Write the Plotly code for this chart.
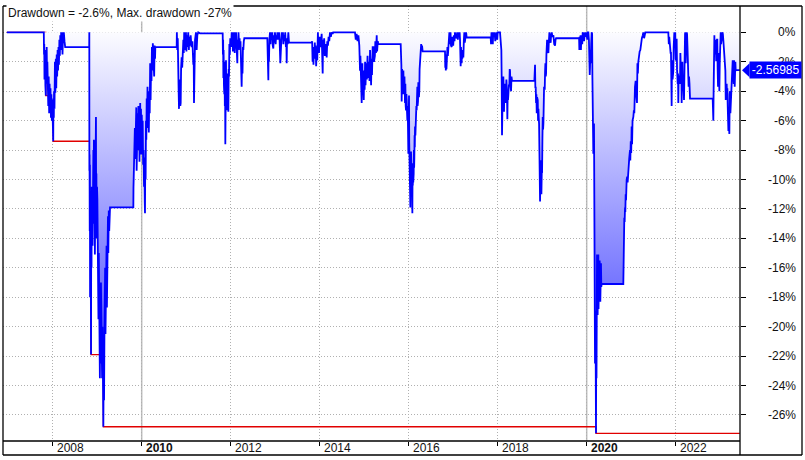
import plotly.graph_objects as go

# ---------------- data ----------------
title_text = "Drawdown = -2.6%, Max. drawdown -27%"
last_value = -2.56985
year_ticks = [2008, 2010, 2012, 2014, 2016, 2018, 2020, 2022]
bold_years = [2010, 2020]
pct_ticks = [0, -2, -4, -6, -8, -10, -12, -14, -16, -18, -20, -22, -24, -26]

# max drawdown (step line): year, percent
mdd_year = [2006.97, 2007.845, 2008.012, 2008.861, 2009.138, 2020.209, 2023.44]
mdd_pct = [0.0, -4.3, -7.4, -21.9, -26.8, -27.25, -27.25]

# drawdown series (year, percent), split by episode
ep_2007 = [
    (2006.97, 0.0), (2007.80, 0.0), (2007.805, -1.5), (2007.81, -0.8), (2007.815, -3.2), (2007.82, -1.6),
    (2007.825, -2.8), (2007.83, -1.2), (2007.835, -3.6), (2007.84, -2.0), (2007.845, -4.3), (2007.85, -1.3),
    (2007.86, -3.5), (2007.865, -1.0), (2007.87, -2.5), (2007.88, -2.0), (2007.885, -4.0), (2007.89, -2.2),
    (2007.90, -5.0), (2007.91, -3.0), (2007.92, -5.5), (2007.93, -3.5), (2007.94, -4.8), (2007.95, -3.8),
    (2007.96, -5.8), (2007.97, -4.2), (2007.98, -6.0), (2007.99, -4.6), (2008.00, -5.6), (2008.012, -7.4),
    (2008.016, -4.5), (2008.025, -5.8), (2008.03, -4.0), (2008.04, -5.2), (2008.05, -2.0), (2008.06, -4.1),
    (2008.07, -1.8), (2008.08, -3.8), (2008.09, -1.5), (2008.10, -3.0), (2008.11, -1.2), (2008.12, -2.6),
    (2008.13, -1.0), (2008.14, -2.2), (2008.15, -0.5), (2008.16, -1.6), (2008.17, -0.2), (2008.18, -1.2),
    (2008.19, 0.0), (2008.20, -0.8), (2008.21, 0.0), (2008.22, -1.5), (2008.23, -0.3), (2008.25, 0.0),
    (2008.265, -0.6), (2008.28, -1.0), (2008.82, -1.0),
]
ep_2008 = [
    (2008.8225, 0.0), (2008.824, -9.4), (2008.828, -8.3), (2008.832, -13.5), (2008.836, -9.0), (2008.840, -18.0),
    (2008.844, -12.0), (2008.848, -17.0), (2008.852, -11.0), (2008.856, -18.7), (2008.859, -14.0),
    (2008.861, -21.9), (2008.866, -12.0), (2008.872, -16.0), (2008.878, -10.5), (2008.884, -15.0),
    (2008.890, -11.0), (2008.896, -14.5), (2008.902, -9.0), (2008.908, -12.5), (2008.914, -8.0),
    (2008.920, -13.0), (2008.926, -7.3), (2008.932, -12.0), (2008.940, -9.0), (2008.948, -15.1),
    (2008.956, -10.0), (2008.962, -13.5), (2008.968, -8.0), (2008.972, -5.75), (2008.976, -12.0),
    (2008.982, -9.6), (2008.988, -14.0), (2008.996, -10.5), (2009.004, -11.4), (2009.012, -17.3),
    (2009.020, -14.0), (2009.028, -19.5), (2009.036, -15.0), (2009.044, -21.0), (2009.052, -16.0),
    (2009.060, -23.5), (2009.068, -18.0), (2009.076, -22.5), (2009.084, -17.0), (2009.092, -21.0),
    (2009.100, -19.0), (2009.110, -23.5), (2009.120, -20.0), (2009.130, -24.5), (2009.138, -26.8),
    (2009.146, -22.0), (2009.154, -25.0), (2009.162, -20.7), (2009.170, -19.0), (2009.178, -16.0),
    (2009.186, -20.5), (2009.194, -17.5), (2009.202, -19.0), (2009.210, -14.5), (2009.218, -18.7),
    (2009.226, -13.5), (2009.234, -16.5), (2009.242, -12.5), (2009.250, -15.0), (2009.260, -12.1),
    (2009.270, -13.5), (2009.288, -11.9), (2009.812, -11.9), (2009.815, -10.6), (2009.822, -9.4),
    (2009.83, -7.8), (2009.838, -9.0), (2009.846, -6.5), (2009.854, -8.6), (2009.862, -5.5), (2009.87, -7.5),
    (2009.878, -5.1), (2009.886, -9.4), (2009.894, -6.0), (2009.902, -8.0), (2009.91, -5.5), (2009.918, -7.0),
    (2009.926, -5.0), (2009.934, -8.0), (2009.942, -5.6), (2009.95, -8.8), (2009.958, -6.0), (2009.966, -4.8),
    (2009.975, -7.5), (2009.984, -5.2), (2009.993, -8.3), (2010.002, -5.6), (2010.012, -7.8), (2010.022, -6.0),
    (2010.032, -9.0), (2010.042, -8.0), (2010.052, -10.5), (2010.06, -9.0), (2010.068, -11.5), (2010.074, -12.3),
    (2010.08, -8.5), (2010.088, -10.0), (2010.096, -6.0), (2010.104, -7.3), (2010.112, -4.5), (2010.12, -6.5),
    (2010.13, -3.7), (2010.14, -5.8), (2010.15, -4.0), (2010.16, -6.8), (2010.17, -4.2), (2010.18, -5.5),
    (2010.19, -2.1), (2010.2, -4.6), (2010.21, -2.4), (2010.22, -3.3), (2010.23, -1.0), (2010.24, -2.6),
    (2010.25, -0.75), (2010.26, -2.2), (2010.27, -1.5), (2010.28, -3.0), (2010.29, -0.9), (2010.3, -1.8),
    (2010.306, -1.0),
]
ep_2011 = [
    (2010.786, -1.0), (2010.79, 0.0), (2010.80, -1.2), (2010.81, -0.4), (2010.815, -2.6), (2010.82, -1.8),
    (2010.83, -4.0), (2010.838, -5.2), (2010.845, -3.2), (2010.852, -4.6), (2010.861, -3.6), (2010.868, -5.0),
    (2010.876, -4.8), (2010.885, -2.5), (2010.898, -1.7), (2010.91, -2.4), (2010.92, -0.8), (2010.936, -0.5),
    (2010.945, -1.4), (2010.955, 0.0), (2010.965, -1.2), (2010.975, -0.1), (2010.985, -1.1), (2010.995, 0.0),
    (2011.005, -1.3), (2011.015, -0.2), (2011.03, -1.0), (2011.045, 0.0), (2011.06, -1.2), (2011.07, -0.3),
    (2011.085, -0.9), (2011.10, -0.2), (2011.12, -1.0), (2011.14, -0.6), (2011.16, -2.2), (2011.168, -1.4),
    (2011.175, -4.8), (2011.182, -1.0), (2011.198, -0.5), (2011.22, 0.0), (2011.235, -1.2), (2011.25, -0.2),
    (2011.27, 0.0), (2011.31, -0.07), (2011.82, -0.07),
]
ep_2012 = [
    (2011.825, -1.5), (2011.83, -0.5), (2011.835, -3.1), (2011.84, -1.2), (2011.848, -3.6), (2011.856, -4.2),
    (2011.862, -2.0), (2011.868, -5.0), (2011.874, -3.5), (2011.879, -7.6), (2011.884, -3.0), (2011.889, -5.6),
    (2011.894, -1.9), (2011.90, -4.5), (2011.909, -5.3), (2011.915, -2.8), (2011.92, -4.8), (2011.93, -2.8),
    (2011.94, -4.0), (2011.947, -5.4), (2011.955, -2.5), (2011.962, -3.0), (2011.97, -0.8), (2011.98, -1.5),
    (2011.99, -0.4), (2012.00, -0.5), (2012.01, -1.0), (2012.022, 0.0), (2012.03, -0.9), (2012.04, 0.0),
    (2012.05, -1.3), (2012.06, -0.2), (2012.07, -1.0), (2012.08, 0.0), (2012.09, -1.4), (2012.10, -0.3),
    (2012.11, -1.1), (2012.12, 0.0), (2012.13, -0.8), (2012.149, -2.1), (2012.155, -0.5), (2012.165, -1.2),
    (2012.175, 0.0), (2012.19, -1.0), (2012.20, -0.4), (2012.209, -1.2), (2012.22, -0.6), (2012.235, -2.4),
    (2012.246, -3.7), (2012.255, -1.8), (2012.265, -2.8), (2012.275, -1.0), (2012.284, -1.2), (2012.295, -0.6),
    (2012.306, -0.4), (2012.823, -0.4),
]
ep_2013 = [
    (2012.828, -1.5), (2012.835, -0.8), (2012.846, -3.25), (2012.852, -1.0), (2012.86, -2.0), (2012.87, -0.5),
    (2012.883, 0.0), (2012.895, -0.8), (2012.905, 0.0), (2012.92, -0.5), (2012.935, 0.0), (2012.945, -0.9),
    (2012.958, -1.1), (2012.97, -0.2), (2012.98, -0.7), (2012.995, 0.0), (2013.01, -0.8), (2013.02, -0.2),
    (2013.035, -0.5), (2013.05, 0.0), (2013.07, -0.5), (2013.085, 0.0), (2013.10, -0.6), (2013.115, -2.1),
    (2013.125, -0.5), (2013.135, -1.2), (2013.145, 0.0), (2013.16, -0.4), (2013.175, 0.0), (2013.183, -0.8),
    (2013.195, -0.2), (2013.21, -0.6), (2013.225, 0.0), (2013.24, -1.0), (2013.25, -0.5), (2013.258, -2.1),
    (2013.266, -0.4), (2013.28, -0.8), (2013.295, 0.0), (2013.31, -0.7), (2013.819, -0.7),
]
ep_2014 = [
    (2013.825, -1.8), (2013.83, -0.6), (2013.84, -2.0), (2013.85, -1.0), (2013.86, -2.2), (2013.87, -1.2),
    (2013.88, -1.8), (2013.89, -0.7), (2013.90, -1.6), (2013.91, -0.9), (2013.92, -2.3), (2013.93, -1.4),
    (2013.945, -1.9), (2013.96, 0.0), (2013.97, -1.0), (2013.985, -1.4), (2014.00, -0.3), (2014.02, -1.0),
    (2014.044, -0.1), (2014.055, -1.5), (2014.067, -2.8), (2014.075, -0.5), (2014.09, -1.2), (2014.10, -0.4),
    (2014.115, -1.6), (2014.13, -0.8), (2014.145, -1.3), (2014.157, -1.7), (2014.17, -0.6), (2014.185, -0.9),
    (2014.20, -0.3), (2014.215, -0.6), (2014.231, 0.0), (2014.25, -0.3), (2014.27, 0.0), (2014.29, -0.1),
    (2014.306, 0.0), (2014.793, 0.0),
]
ep_2015 = [
    (2014.81, -0.5), (2014.83, -0.1), (2014.85, -0.6), (2014.87, -0.2), (2014.89, -0.9), (2014.906, -2.6),
    (2014.915, -1.6), (2014.925, -3.8), (2014.935, -2.5), (2014.943, -4.8), (2014.95, -3.0), (2014.958, -2.1),
    (2014.965, -4.0), (2014.975, -3.2), (2014.99, -4.6), (2015.00, -2.6), (2015.01, -3.9), (2015.02, -2.0),
    (2015.03, -3.6), (2015.045, -2.1), (2015.06, -3.2), (2015.075, -1.6), (2015.09, -3.1), (2015.105, -2.0),
    (2015.12, -3.3), (2015.131, -1.2), (2015.14, -2.5), (2015.155, -3.6), (2015.165, -1.8), (2015.175, -2.9),
    (2015.19, -1.0), (2015.206, -1.0), (2015.22, -2.0), (2015.24, -1.6), (2015.25, -0.6), (2015.265, -1.4),
    (2015.281, -0.2), (2015.29, -1.3), (2015.305, -0.6), (2015.318, -0.8), (2015.82, -0.8),
]
ep_2016 = [
    (2015.835, -2.2), (2015.842, -4.7), (2015.85, -2.5), (2015.858, -3.9), (2015.865, -3.0), (2015.872, -4.2),
    (2015.88, -2.6), (2015.888, -3.6), (2015.895, -3.7), (2015.905, -3.0), (2015.917, -4.8), (2015.925, -3.5),
    (2015.932, -5.0), (2015.94, -5.3), (2015.948, -4.2), (2015.955, -4.6), (2015.962, -5.4), (2015.97, -6.0),
    (2015.978, -5.0), (2015.985, -7.2), (2015.992, -8.25), (2016.0, -6.0), (2016.007, -4.3), (2016.012, -7.5),
    (2016.017, -9.0), (2016.022, -10.75), (2016.027, -9.5), (2016.032, -11.2), (2016.037, -11.9),
    (2016.042, -9.8), (2016.047, -10.5), (2016.052, -8.1), (2016.057, -10.0), (2016.062, -8.8),
    (2016.067, -9.6), (2016.072, -11.0), (2016.077, -10.2), (2016.082, -12.3), (2016.087, -9.2),
    (2016.092, -10.4), (2016.097, -8.9), (2016.102, -10.2), (2016.107, -9.0), (2016.112, -9.6),
    (2016.117, -8.0), (2016.122, -9.2), (2016.127, -8.5), (2016.132, -7.0), (2016.137, -7.8), (2016.142, -6.4),
    (2016.15, -7.0), (2016.157, -5.5), (2016.165, -6.2), (2016.172, -5.0), (2016.179, -5.3), (2016.186, -4.2),
    (2016.194, -3.7), (2016.2, -5.0), (2016.209, -4.7), (2016.216, -3.4), (2016.224, -3.5), (2016.23, -4.4),
    (2016.239, -3.9), (2016.245, -2.5), (2016.254, -2.1), (2016.262, -1.2), (2016.269, -1.4), (2016.28, -0.8),
    (2016.292, -1.1), (2016.30, -0.9), (2016.314, -1.3), (2016.816, -1.3),
]
ep_2017 = [
    (2016.822, -2.4), (2016.828, -1.5), (2016.834, -2.6), (2016.84, -1.6), (2016.848, -2.5), (2016.855, -1.3),
    (2016.862, -2.2), (2016.87, -1.0), (2016.88, -1.6), (2016.891, -1.0), (2016.90, -0.3), (2016.914, 0.0),
    (2016.925, -0.8), (2016.94, 0.0), (2016.95, -0.9), (2016.966, -1.0), (2016.975, -0.3), (2016.985, -0.8),
    (2017.0, -0.9), (2017.015, -0.2), (2017.03, -0.6), (2017.04, 0.0), (2017.06, -0.4), (2017.078, -0.3),
    (2017.09, 0.0), (2017.105, -0.5), (2017.116, 0.0), (2017.13, -0.3), (2017.145, 0.0), (2017.153, -0.5),
    (2017.16, -1.2), (2017.168, -2.3), (2017.175, -1.0), (2017.183, -1.5), (2017.19, -2.1), (2017.198, -1.2),
    (2017.205, -1.8), (2017.213, -1.2), (2017.22, -1.6), (2017.228, -1.7), (2017.24, -0.5), (2017.25, 0.0),
    (2017.26, -0.7), (2017.27, -0.2), (2017.28, -0.5), (2017.29, 0.0), (2017.303, -0.35), (2017.842, -0.35),
]
ep_2018 = [
    (2017.85, -0.8), (2017.86, 0.0), (2017.87, -0.7), (2017.88, -0.2), (2017.89, -0.8), (2017.90, 0.0),
    (2017.915, -0.3), (2017.93, 0.0), (2017.945, -0.6), (2017.96, -0.1), (2017.977, 0.0), (2017.99, -0.5),
    (2018.0, 0.0), (2018.052, 0.0), (2018.065, -0.8), (2018.075, -1.2), (2018.082, -1.2), (2018.09, -3.5),
    (2018.097, -7.0), (2018.102, -4.0), (2018.107, -5.0), (2018.112, -3.7), (2018.118, -4.6), (2018.127, -3.0),
    (2018.133, -4.2), (2018.142, -5.4), (2018.148, -3.8), (2018.155, -4.4), (2018.165, -3.5), (2018.172, -4.8),
    (2018.18, -3.9), (2018.187, -4.4), (2018.195, -3.2), (2018.202, -3.7), (2018.21, -4.5), (2018.217, -5.9),
    (2018.225, -4.0), (2018.232, -4.6), (2018.24, -4.2), (2018.25, -3.6), (2018.262, -3.6), (2018.27, -2.5),
    (2018.277, -2.6), (2018.285, -3.5), (2018.292, -4.0), (2018.30, -4.0), (2018.31, -3.0), (2018.322, -3.3),
    (2018.824, -3.3),
]
ep_2019 = [
    (2018.832, -2.8), (2018.839, -2.2), (2018.846, -3.8), (2018.854, -3.7), (2018.862, -4.8), (2018.87, -4.2),
    (2018.877, -5.5), (2018.885, -4.4), (2018.892, -5.0), (2018.9, -4.6), (2018.907, -6.0), (2018.915, -5.2),
    (2018.922, -5.8), (2018.93, -6.2), (2018.937, -7.3), (2018.945, -9.0), (2018.952, -11.5), (2018.96, -9.8),
    (2018.967, -8.7), (2018.975, -10.4), (2018.982, -11.0), (2018.99, -9.5), (2018.997, -9.5), (2019.005, -7.2),
    (2019.012, -5.75), (2019.02, -6.6), (2019.027, -6.2), (2019.035, -4.8), (2019.042, -3.7), (2019.05, -4.5),
    (2019.057, -3.9), (2019.065, -2.6), (2019.072, -2.1), (2019.08, -3.0), (2019.087, -2.8), (2019.095, -1.5),
    (2019.102, -1.0), (2019.11, -0.5), (2019.125, -1.2), (2019.139, -1.4), (2019.15, -0.6), (2019.162, 0.0),
    (2019.175, -0.6), (2019.19, -0.7), (2019.2, -0.2), (2019.214, 0.0), (2019.23, -0.3), (2019.252, -0.2),
    (2019.27, -0.8), (2019.289, -0.9), (2019.30, -0.5), (2019.312, -0.4), (2019.829, -0.4),
]
ep_2020 = [
    (2019.835, -1.2), (2019.84, -0.3), (2019.849, -0.5), (2019.855, -1.2), (2019.862, -0.2), (2019.87, -1.2),
    (2019.878, -0.5), (2019.887, -0.2), (2019.9, -0.8), (2019.91, 0.0), (2019.924, -0.1), (2019.94, -0.6),
    (2019.95, 0.0), (2019.962, 0.0), (2019.975, -0.3), (2019.99, 0.0), (2020.0, -0.2), (2020.015, -0.5),
    (2020.025, 0.0), (2020.037, 0.0), (2020.05, -0.5), (2020.06, -1.2), (2020.068, -2.9), (2020.074, -2.4),
    (2020.082, -1.2), (2020.09, -2.1), (2020.1, -0.8), (2020.111, 0.0), (2020.122, -0.1), (2020.128, -3.0),
    (2020.134, -4.6), (2020.142, -6.0), (2020.149, -8.25), (2020.156, -7.0), (2020.164, -6.2), (2020.168, -12.0),
    (2020.172, -16.0), (2020.176, -14.0), (2020.179, -21.0), (2020.183, -16.7), (2020.187, -22.5),
    (2020.19, -19.0), (2020.194, -26.7), (2020.198, -18.9), (2020.202, -24.0), (2020.205, -20.0),
    (2020.209, -27.25), (2020.213, -22.8), (2020.217, -20.5), (2020.22, -23.5), (2020.224, -18.7),
    (2020.228, -21.0), (2020.232, -15.1), (2020.236, -19.0), (2020.24, -16.0), (2020.246, -19.2),
    (2020.25, -15.5), (2020.255, -18.5), (2020.261, -15.1), (2020.266, -18.8), (2020.27, -16.0),
    (2020.276, -18.5), (2020.281, -15.5), (2020.286, -17.8), (2020.291, -15.5), (2020.296, -17.5),
    (2020.301, -16.5), (2020.306, -18.3), (2020.311, -15.8), (2020.316, -17.0), (2020.321, -15.7),
    (2020.328, -17.3), (2020.336, -17.1), (2020.823, -17.1),
    (2020.826, -16.4), (2020.83, -14.5), (2020.838, -13.5), (2020.845, -12.6), (2020.853, -12.9),
    (2020.861, -11.9), (2020.868, -12.2), (2020.876, -11.0), (2020.884, -11.4), (2020.898, -10.0),
    (2020.91, -9.8), (2020.92, -10.2), (2020.936, -9.2), (2020.945, -9.6), (2020.955, -8.6), (2020.973, -8.0),
    (2020.98, -8.7), (2020.99, -7.4), (2021.0, -8.2), (2021.01, -6.4), (2021.02, -7.6), (2021.03, -6.0),
    (2021.048, -5.75), (2021.06, -5.3), (2021.07, -5.5), (2021.085, -3.7), (2021.1, -3.3), (2021.11, -4.0),
    (2021.123, -4.4), (2021.13, -4.8), (2021.14, -2.1), (2021.15, -2.8), (2021.16, -2.0), (2021.175, -1.5),
    (2021.19, -1.3), (2021.205, -1.2), (2021.22, -0.6), (2021.24, -0.4), (2021.26, -0.2), (2021.273, 0.0),
    (2021.29, -0.4), (2021.318, 0.0), (2021.834, 0.0),
]
ep_2022 = [
    (2021.845, -0.8), (2021.855, -0.3), (2021.865, -1.0), (2021.872, -1.0), (2021.885, -1.4), (2021.894, -1.4),
    (2021.902, -3.0), (2021.909, -5.0), (2021.915, -2.5), (2021.922, -1.9), (2021.93, -3.2), (2021.94, -2.6),
    (2021.947, -2.6), (2021.955, -1.0), (2021.962, -0.1), (2021.969, 0.0), (2021.98, -0.5), (2021.99, 0.0),
    (2022.0, -1.8), (2022.007, -1.9), (2022.015, -0.5), (2022.022, -0.5), (2022.03, -2.5), (2022.037, -3.0),
    (2022.045, -3.5), (2022.052, -2.8), (2022.059, -4.8), (2022.067, -3.0), (2022.075, -3.0), (2022.082, -3.5),
    (2022.09, -3.2), (2022.097, -3.5), (2022.105, -1.4), (2022.112, -2.0), (2022.12, -3.0), (2022.127, -2.5),
    (2022.134, -4.8), (2022.14, -2.2), (2022.15, -2.0), (2022.158, -3.5), (2022.165, -3.0), (2022.172, -3.8),
    (2022.18, -4.0), (2022.187, -4.6), (2022.195, -1.7), (2022.203, -1.0), (2022.21, -0.1), (2022.217, 0.0),
    (2022.225, -2.1), (2022.232, -1.2), (2022.24, -0.2), (2022.247, 0.0), (2022.255, -0.1), (2022.265, -1.0),
    (2022.275, -2.1), (2022.284, -2.1), (2022.29, -3.7), (2022.3, -3.0), (2022.31, -3.5), (2022.322, -4.5),
    (2022.831, -4.5),
]
ep_2023 = [
    (2022.838, -5.5), (2022.846, -6.0), (2022.852, -4.0), (2022.858, -2.0), (2022.865, -3.0), (2022.869, -0.2),
    (2022.876, -1.5), (2022.884, -1.2), (2022.892, -0.8), (2022.9, -0.5), (2022.91, -1.9), (2022.921, -1.9),
    (2022.928, -0.5), (2022.935, -0.5), (2022.943, -2.5), (2022.951, -3.7), (2022.958, -2.0), (2022.966, -1.4),
    (2022.974, -2.5), (2022.981, -4.0), (2022.99, -2.1), (2022.998, -1.0), (2023.005, -0.5), (2023.011, 0.0),
    (2023.02, -0.8), (2023.03, -0.5), (2023.04, -0.4), (2023.049, 0.0), (2023.06, -0.1), (2023.07, -0.5),
    (2023.078, -0.8), (2023.086, -1.2), (2023.094, -2.0), (2023.101, -2.1), (2023.109, -2.5), (2023.116, -2.6),
    (2023.124, -4.6), (2023.131, -3.5), (2023.139, -3.7), (2023.146, -3.5), (2023.154, -4.4), (2023.161, -3.8),
    (2023.169, -5.0), (2023.176, -5.5), (2023.184, -6.7), (2023.19, -5.8), (2023.198, -6.5), (2023.206, -6.9),
    (2023.213, -4.2), (2023.221, -4.0), (2023.229, -5.5), (2023.236, -5.0), (2023.244, -3.8), (2023.252, -3.5),
    (2023.259, -3.3), (2023.266, -2.4), (2023.274, -2.0), (2023.281, -1.9), (2023.289, -3.0), (2023.296, -3.0),
    (2023.304, -3.5), (2023.311, -1.9), (2023.318, -2.5), (2023.326, -3.7), (2023.334, -2.8), (2023.341, -2.0),
    (2023.348, -2.6), (2023.356, -2.57), (2023.44, -2.57),
]

episodes = [ep_2007, ep_2008, ep_2011, ep_2012, ep_2013, ep_2014, ep_2015,
            ep_2016, ep_2017, ep_2018, ep_2019, ep_2020, ep_2022, ep_2023]
dd_year = [p[0] for ep in episodes for p in ep]
dd_pct = [p[1] for ep in episodes for p in ep]

# ---------------- figure ----------------
FONT = "Liberation Sans, Arial, sans-serif"
W, H = 805, 460
L, R, T, B = 3, 65, 6, 19
pw, ph = W - L - R, H - T - B
Y_RANGE = [-27.77, 1.79]


def px2paper_x(px):
    return (px - L) / pw


def py2paper_y(py):
    return (H - B - py) / ph


fig = go.Figure()

fig.add_trace(go.Scatter(
    x=mdd_year, y=mdd_pct, mode="lines", line=dict(color="rgb(225,0,0)", width=1.3, shape="hv"),
    hoverinfo="skip", showlegend=False,
))
fig.add_trace(go.Scatter(
    x=dd_year, y=dd_pct, mode="lines", line=dict(color="rgb(0,0,255)", width=1.8),
    fill="tozeroy",
    fillgradient=dict(type="vertical", start=0, stop=-27,
                      colorscale=[[0, "rgb(252,252,255)"], [1, "rgb(40,40,255)"]]),
    hoverinfo="skip", showlegend=False,
))

shapes = []
# solid decade gridlines
for yr in bold_years:
    shapes.append(dict(type="line", xref="x", yref="paper", x0=yr, x1=yr, y0=0, y1=1,
                       line=dict(color="#bdbdbd", width=1.5), layer="below"))
# frame
frame_x1 = px2paper_x(802)
frame_y0 = py2paper_y(455)
blk = dict(color="black", width=1.3)
shapes += [
    dict(type="line", xref="paper", yref="paper", x0=0, x1=frame_x1, y0=1, y1=1, line=blk),
    dict(type="line", xref="paper", yref="paper", x0=0, x1=frame_x1, y0=frame_y0, y1=frame_y0, line=blk),
    dict(type="line", xref="paper", yref="paper", x0=0, x1=0, y0=frame_y0, y1=1, line=blk),
    dict(type="line", xref="paper", yref="paper", x0=frame_x1, x1=frame_x1, y0=frame_y0, y1=1, line=blk),
    dict(type="line", xref="paper", yref="paper", x0=1, x1=1, y0=frame_y0, y1=1, line=blk),
    dict(type="line", xref="paper", yref="paper", x0=0, x1=1, y0=0, y1=0, line=blk),
]
# value marker arrow
half_h = 7 / ph * (Y_RANGE[1] - Y_RANGE[0])
tip_x = px2paper_x(742)
body_x = px2paper_x(749.5)
shapes.append(dict(
    type="path", xref="paper", yref="y",
    path=f"M {tip_x} {last_value} L {body_x} {last_value + half_h} L {body_x} {last_value - half_h} Z",
    fillcolor="rgb(0,0,255)", line=dict(width=0), layer="above"))

annotations = []
annotations.append(dict(
    text=title_text, xref="paper", yref="paper", x=px2paper_x(6), y=py2paper_y(13),
    xanchor="left", yanchor="middle", showarrow=False, bgcolor="white", borderpad=1,
    font=dict(family=FONT, size=12, color="#111")))
for yr in year_ticks:
    txt = f"<b>{yr}</b>" if yr in bold_years else str(yr)
    annotations.append(dict(
        text=txt, xref="x", yref="paper", x=yr, y=py2paper_y(447.5), xshift=2,
        xanchor="left", yanchor="middle", showarrow=False,
        font=dict(family=FONT, size=12, color="#111")))
for v in pct_ticks:
    annotations.append(dict(
        text=f"{v}%", xref="paper", yref="y", x=px2paper_x(798), y=v,
        xanchor="right", yanchor="middle", showarrow=False,
        font=dict(family=FONT, size=12, color="#111")))
annotations.append(dict(
    text=f"{last_value:.5f}", xref="paper", yref="y", x=px2paper_x(801.5), y=last_value,
    xanchor="right", yanchor="middle", showarrow=False, align="right",
    bgcolor="rgb(0,0,255)", width=48, height=13, borderpad=1.5,
    font=dict(family=FONT, size=12, color="white")))

fig.update_layout(
    width=W, height=H,
    margin=dict(l=L, r=R, t=T, b=B, pad=0),
    paper_bgcolor="white", plot_bgcolor="white",
    showlegend=False,
    shapes=shapes, annotations=annotations,
    xaxis=dict(range=[2006.883, 2023.445], tickvals=year_ticks, showticklabels=False,
               ticks="outside", ticklen=4, tickwidth=1.2, tickcolor="black",
               showgrid=True, gridcolor="#b0b0b0", griddash="1px,2px", gridwidth=1,
               zeroline=False, showline=False, fixedrange=True),
    yaxis=dict(range=Y_RANGE, side="right", tickvals=pct_ticks, showticklabels=False,
               ticks="outside", ticklen=5, tickwidth=1.2, tickcolor="black",
               showgrid=True, gridcolor="#b0b0b0", griddash="1px,2px", gridwidth=1,
               zeroline=False, showline=False, fixedrange=True),
)

fig.write_html(
    "out.html",
    config={"displayModeBar": False},
    post_script="document.body.style.margin='0';document.body.style.overflow='hidden';",
)
